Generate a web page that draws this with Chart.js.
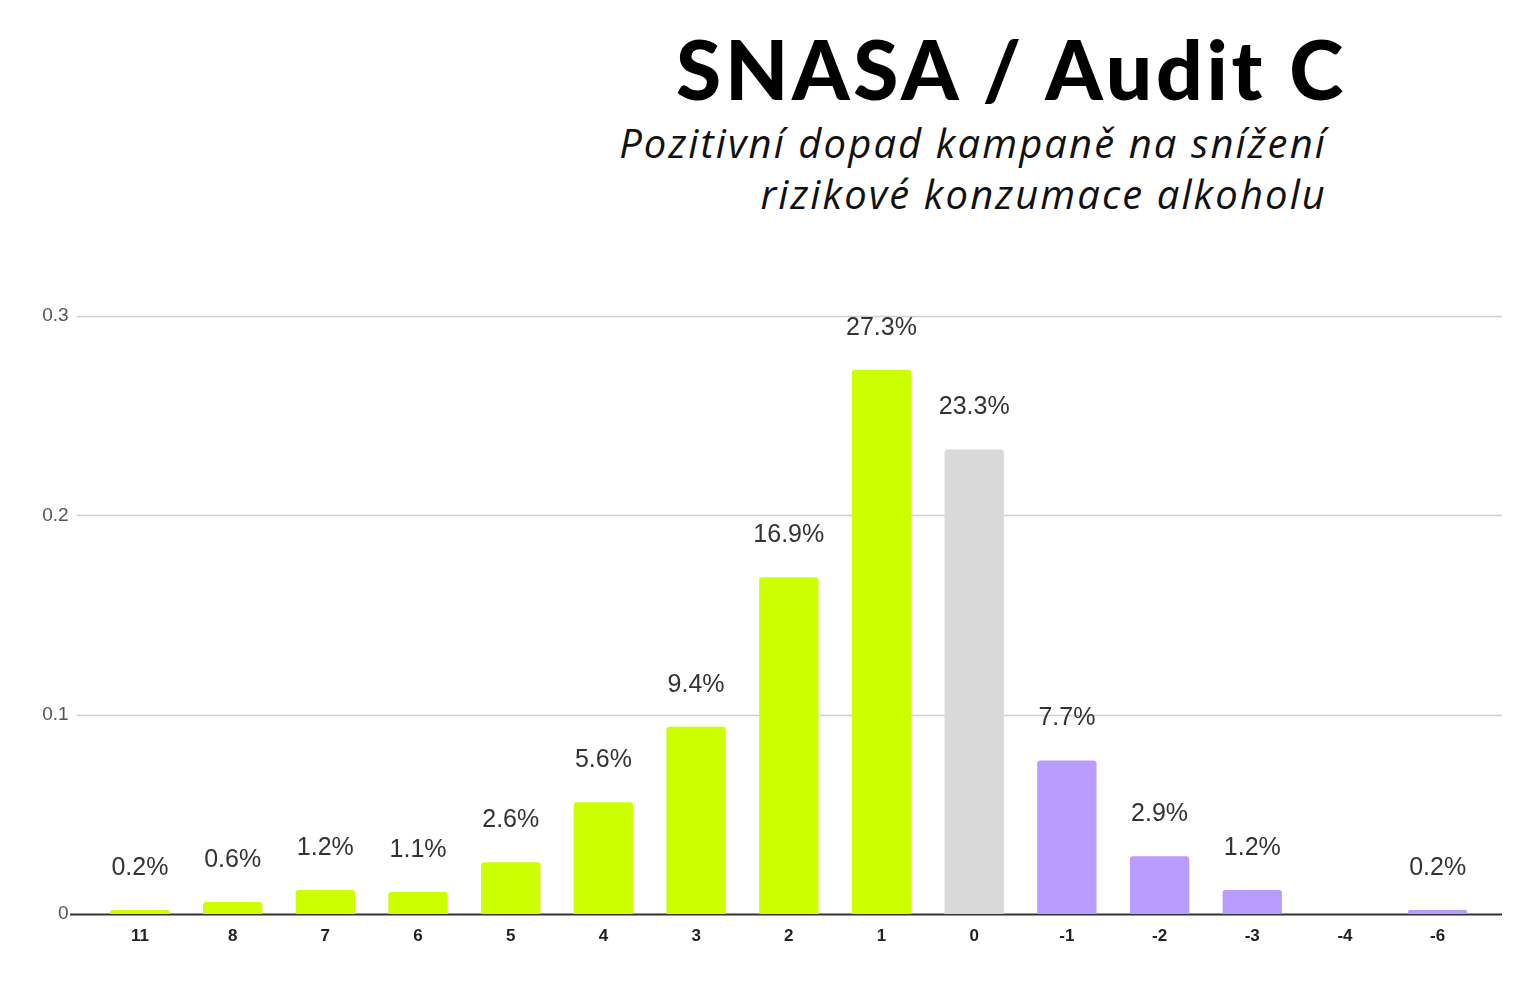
<!DOCTYPE html>
<html>
<head>
<meta charset="utf-8">
<title>SNASA / Audit C</title>
<script src="https://cdn.jsdelivr.net/npm/chart.js@4"></script>
<style>
  html, body { margin: 0; padding: 0; background: #fff; }
  #wrap { position: relative; width: 1536px; height: 999px; overflow: hidden; }
  #graf { position: absolute; left: 0; top: 0; }
  .titulek {
    position: absolute; right: 189px; top: 18px;
    font-family: Lato, "Open Sans", sans-serif; font-weight: 900;
    font-size: 82px; line-height: 100px; letter-spacing: 3.7px; color: #000; white-space: nowrap;
  }
  .podtitulek {
    position: absolute; right: 209px; top: 117px; text-align: right;
    font-family: "Open Sans", Lato, sans-serif; font-style: italic;
    font-size: 40px; line-height: 51px; letter-spacing: 2.1px; color: #111; white-space: nowrap;
  }
</style>
</head>
<body>
<div id="wrap">
  <div class="titulek">SNASA / Audit C</div>
  <div class="podtitulek">Pozitivní dopad kampaně na snížení<br>rizikové konzumace alkoholu</div>
  <canvas id="graf" width="1536" height="999"></canvas>
</div>
<script>
// změna skóre Audit C
const kategorie = ['11', '8', '7', '6', '5', '4', '3', '2', '1', '0', '-1', '-2', '-3', '-4', '-6'];
const podily = [0.002, 0.006, 0.012, 0.011, 0.026, 0.056, 0.094, 0.169, 0.273, 0.233, 0.077, 0.029, 0.012, null, 0.002];
const barvy = ['#ccff00', '#ccff00', '#ccff00', '#ccff00', '#ccff00', '#ccff00', '#ccff00', '#ccff00', '#ccff00',
               '#d9d9d9', '#b99cff', '#b99cff', '#b99cff', '#b99cff', '#b99cff'];
const osaY = [0, 0.1, 0.2, 0.3];

// mřížka přes celou šířku + popisky nad sloupci
const kresleni = {
    id: 'kresleni',
    beforeDatasetsDraw(chart) {
        const ctx = chart.ctx;
        const y = chart.scales.y;
        ctx.save();
        osaY.forEach(function (v) {
            const py = Math.round(y.getPixelForValue(v)) + 0.5;
            ctx.beginPath();
            if (v === 0) {
                ctx.strokeStyle = '#333';
                ctx.lineWidth = 2;
                ctx.moveTo(70, py);
            } else {
                ctx.strokeStyle = '#d0d0d0';
                ctx.lineWidth = 1.5;
                ctx.moveTo(77, py);
            }
            ctx.lineTo(1502, py);
            ctx.stroke();
        });
        ctx.restore();
    },
    afterDatasetsDraw(chart) {
        const ctx = chart.ctx;
        const meta = chart.getDatasetMeta(0);
        ctx.save();
        ctx.font = '25px "Liberation Sans", Arial, sans-serif';
        ctx.fillStyle = '#333';
        ctx.textAlign = 'center';
        ctx.textBaseline = 'middle';
        meta.data.forEach(function (bar, i) {
            const v = podily[i];
            if (v === null) return;
            ctx.fillText((v * 100).toFixed(1) + '%', bar.x, bar.y - 42);
        });
        ctx.restore();
    }
};

new Chart(document.getElementById('graf').getContext('2d'), {
    type: 'bar',
    data: {
        labels: kategorie,
        datasets: [{
            data: podily,
            backgroundColor: barvy,
            borderRadius: { topLeft: 3, topRight: 3 },
            borderSkipped: 'bottom',
            barPercentage: 0.8,
            categoryPercentage: 0.8
        }]
    },
    options: {
        responsive: false,
        animation: false,
        devicePixelRatio: 1,
        layout: { padding: { top: 316, bottom: 45, left: 0, right: 52 } },
        plugins: { legend: { display: false }, tooltip: { enabled: false } },
        scales: {
            x: {
                grid: { display: false, drawTicks: false },
                border: { display: false },
                ticks: {
                    padding: 12,
                    color: '#222',
                    font: { family: '"Liberation Sans", Arial, sans-serif', size: 17, weight: 'bold' }
                },
                afterFit: function (s) { s.height = 40; }
            },
            y: {
                min: 0,
                max: 0.3,
                grid: { display: false, drawTicks: false },
                border: { display: false },
                ticks: {
                    stepSize: 0.1,
                    padding: 25,
                    color: '#555',
                    font: { family: '"Liberation Sans", Arial, sans-serif', size: 19 }
                },
                afterFit: function (s) { s.width = 93.6; }
            }
        }
    },
    plugins: [kresleni]
});
</script>
</body>
</html>
